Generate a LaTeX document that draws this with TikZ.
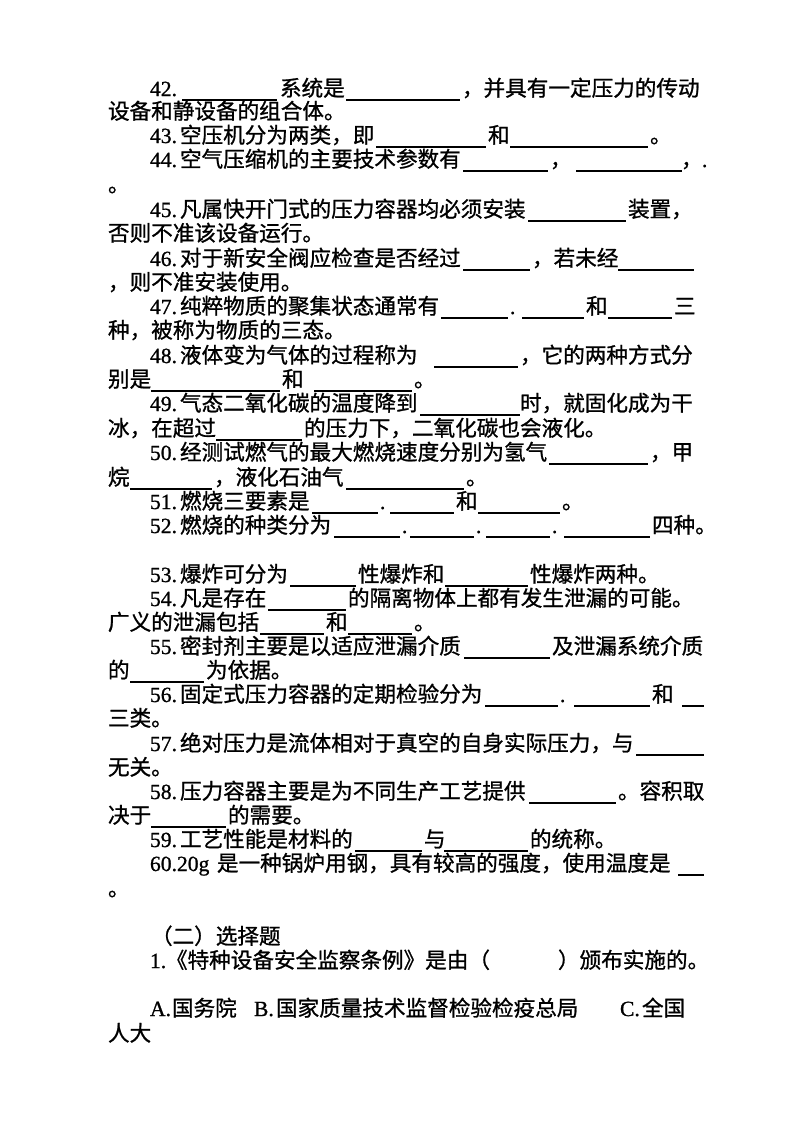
\documentclass[tikz,border=0pt]{standalone}
\usepackage{fontspec}
\setmainfont{Liberation Serif}
\newfontfamily\cjk[FakeBold=1]{Noto Sans CJK SC}
\newfontfamily\lat[FakeBold=1]{Liberation Serif}
\newcounter{nc}
\newcommand\nb[1]{\makebox[30pt][l]{\lat #1}}
\newcommand\tx[3]{\stepcounter{nc}\node[txt] (t\arabic{nc}) at (#1,#2+8) {#3};}
\newcommand\bl[3]{\draw[blankline] (#1,#2+12) -- (#3,#2+12);}
\begin{document}
\begin{tikzpicture}[x=1pt,y=-1pt,
  txt/.style={anchor=base west,inner sep=0pt,outer sep=0pt,font=\cjk\fontsize{21.6}{24}\selectfont},
  blankline/.style={line width=1.6pt}]
\useasboundingbox (0,0) rectangle (800,1132);
\fill[white] (0,0) rectangle (800,1132);
% 42
\tx{150}{88}{\nb{42.}}
\bl{182}{88}{277}
\tx{280}{88}{系统是}
\bl{346}{88}{460}
\tx{462}{88}{，并具有一定压力的传动}
\tx{108}{111}{设备和静设备的组合体。}
% 43
\tx{150}{135}{\nb{43.}空压机分为两类，即}
\bl{376}{135}{486}
\tx{488}{135}{和}
\bl{510}{135}{648}
\tx{650}{135}{。}
% 44
\tx{150}{159}{\nb{44.}空气压缩机的主要技术参数有}
\bl{463}{159}{548}
\tx{550}{159}{，}
\bl{576}{159}{682}
\tx{681}{159}{，}
\tx{702}{159}{\lat .}
\tx{108}{184}{。}
% 45
\tx{150}{209}{\nb{45.}凡属快开门式的压力容器均必须安装}
\bl{528}{209}{626}
\tx{628}{209}{装置，}
\tx{108}{233}{否则不准该设备运行。}
% 46
\tx{150}{258}{\nb{46.}对于新安全阀应检查是否经过}
\bl{463}{258}{530}
\tx{532}{258}{，若未经}
\bl{618}{258}{694}
\tx{108}{282}{，则不准安装使用。}
% 47
\tx{150}{306}{\nb{47.}纯粹物质的聚集状态通常有}
\bl{441}{306}{508}
\tx{510}{306}{\lat .}
\bl{522}{306}{584}
\tx{586}{306}{和}
\bl{608}{306}{672}
\tx{674}{306}{三}
\tx{108}{330}{种，被称为物质的三态。}
% 48
\tx{150}{355}{\nb{48.}液体变为气体的过程称为}
\bl{434}{355}{518}
\tx{520}{355}{，它的两种方式分}
\tx{108}{379}{别是}
\bl{151}{379}{280}
\tx{282}{379}{和}
\bl{314}{379}{412}
\tx{414}{379}{。}
% 49
\tx{150}{403}{\nb{49.}气态二氧化碳的温度降到}
\bl{420}{403}{520}
\tx{520}{403}{时，就固化成为干}
\tx{108}{428}{冰，在超过}
\bl{216}{428}{302}
\tx{304}{428}{的压力下，二氧化碳也会液化。}
% 50
\tx{150}{452}{\nb{50.}经测试燃气的最大燃烧速度分别为氢气}
\bl{549}{452}{648}
\tx{650}{452}{，甲}
\tx{108}{477}{烷}
\bl{130}{477}{212}
\tx{214}{477}{，液化石油气}
\bl{346}{477}{464}
\tx{466}{477}{。}
% 51
\tx{150}{501}{\nb{51.}燃烧三要素是}
\bl{312}{501}{378}
\tx{380}{501}{\lat .}
\bl{390}{501}{454}
\tx{456}{501}{和}
\bl{478}{501}{560}
\tx{562}{501}{。}
% 52
\tx{150}{525}{\nb{52.}燃烧的种类分为}
\bl{334}{525}{400}
\tx{402}{525}{\lat .}
\bl{410}{525}{474}
\tx{476}{525}{\lat .}
\bl{486}{525}{550}
\tx{552}{525}{\lat .}
\bl{564}{525}{650}
\tx{652}{525}{四种。}
% 53
\tx{150}{574}{\nb{53.}爆炸可分为}
\bl{290}{574}{356}
\tx{358}{574}{性爆炸和}
\bl{445}{574}{528}
\tx{530}{574}{性爆炸两种。}
% 54
\tx{150}{598}{\nb{54.}凡是存在}
\bl{268}{598}{346}
\tx{348}{598}{的隔离物体上都有发生泄漏的可能。}
\tx{108}{622}{广义的泄漏包括}
\bl{260}{622}{324}
\tx{326}{622}{和}
\bl{348}{622}{412}
\tx{414}{622}{。}
% 55
\tx{150}{646}{\nb{55.}密封剂主要是以适应泄漏介质}
\bl{464}{646}{550}
\tx{552}{646}{及泄漏系统介质}
\tx{108}{670}{的}
\bl{130}{670}{204}
\tx{206}{670}{为依据。}
% 56
\tx{150}{694}{\nb{56.}固定式压力容器的定期检验分为}
\bl{485}{694}{558}
\tx{560}{694}{\lat .}
\bl{574}{694}{650}
\tx{652}{694}{和}
\bl{682}{694}{704}
\tx{108}{718}{三类。}
% 57
\tx{150}{743}{\nb{57.}绝对压力是流体相对于真空的自身实际压力，与}
\bl{636}{743}{704}
\tx{108}{767}{无关。}
% 58
\tx{150}{791}{\nb{58.}压力容器主要是为不同生产工艺提供}
\bl{529}{791}{616}
\tx{618}{791}{。容积取}
\tx{108}{815}{决于}
\bl{151}{815}{226}
\tx{228}{815}{的需要。}
% 59
\tx{150}{839}{\nb{59.}工艺性能是材料的}
\bl{355}{839}{422}
\tx{424}{839}{与}
\bl{444}{839}{528}
\tx{530}{839}{的统称。}
% 60
\tx{150}{863}{\lat 60.20g}
\tx{217}{863}{是一种锅炉用钢，具有较高的强度，使用温度是}
\bl{678}{863}{704}
\tx{108}{888}{。}
% choice
\tx{151}{936}{（二）选择题}
\tx{150}{960}{\makebox[16pt][l]{\lat 1.}《特种设备安全监察条例》是由（}
\tx{558}{960}{）颁布实施的。}
\tx{150}{1008}{\makebox[22pt][l]{\lat A.}国务院}
\tx{254}{1008}{\makebox[22pt][l]{\lat B.}国家质量技术监督检验检疫总局}
\tx{620}{1008}{\makebox[22pt][l]{\lat C.}全国}
\tx{108}{1033}{人大}
\end{tikzpicture}
\end{document}
